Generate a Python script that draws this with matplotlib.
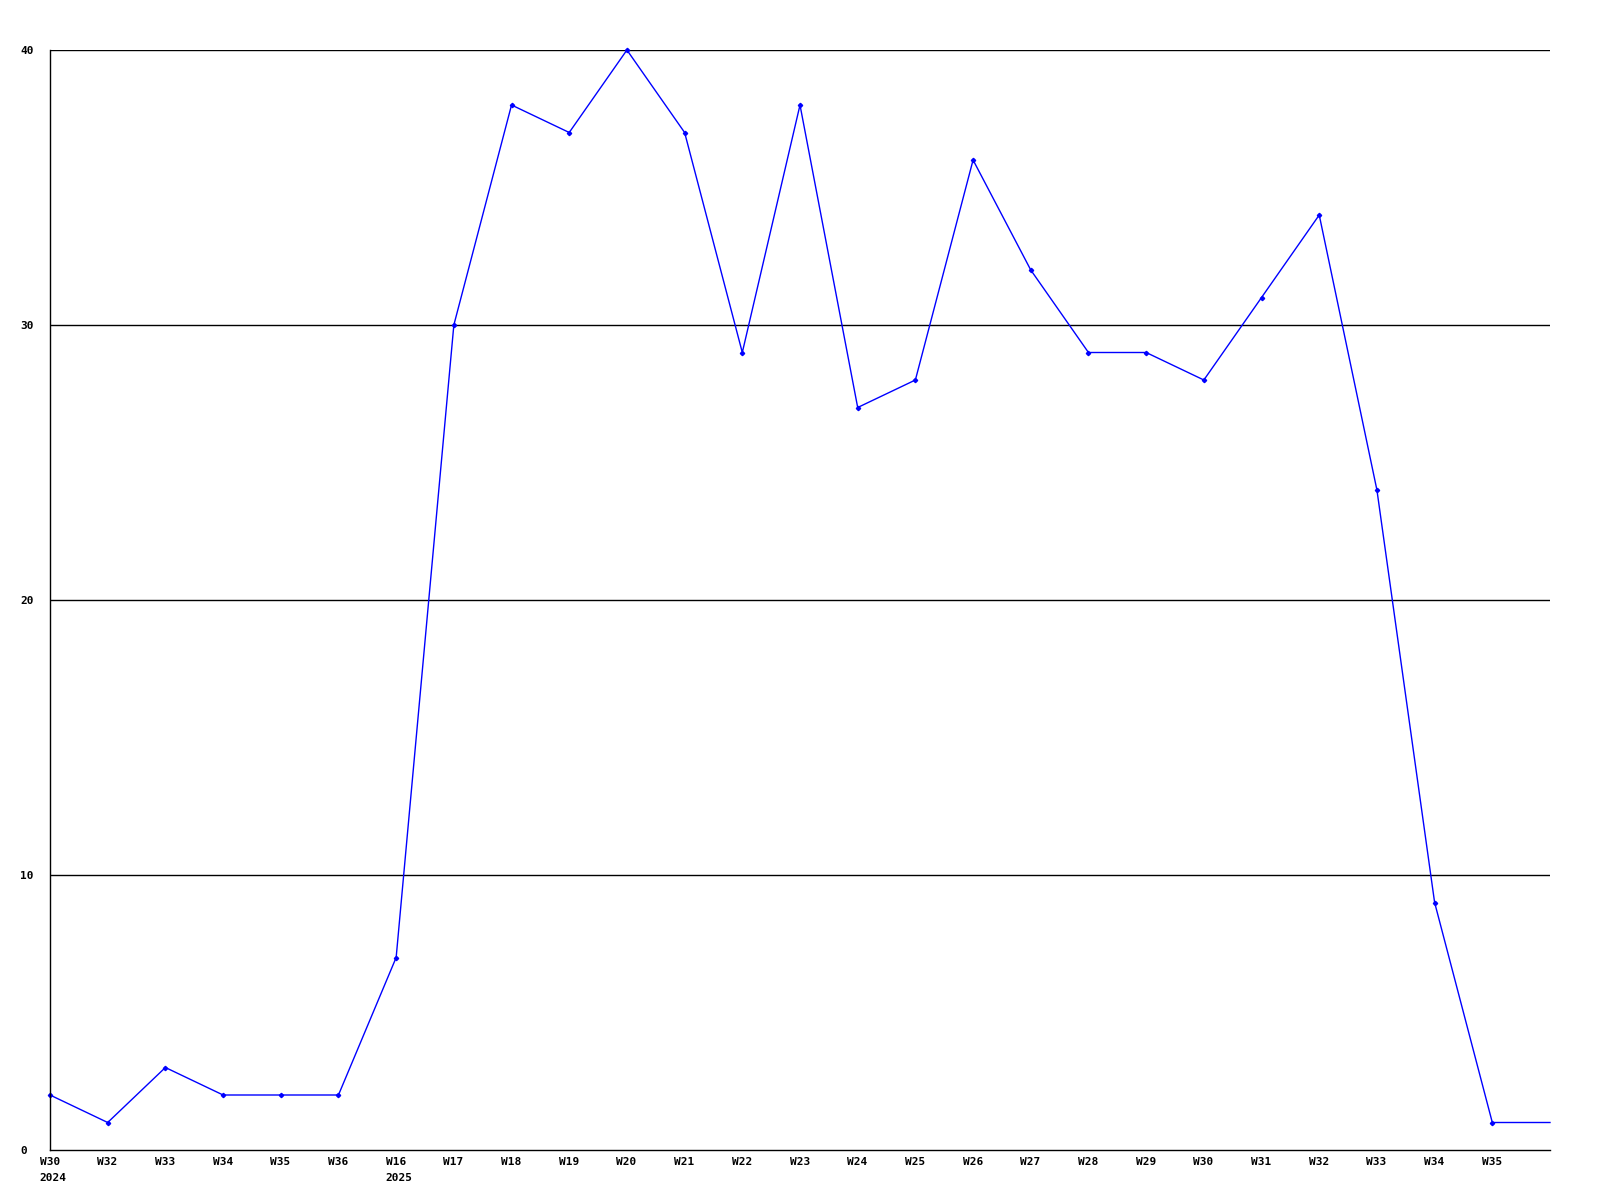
import matplotlib
matplotlib.use("Agg")
import matplotlib.pyplot as plt
import matplotlib.transforms as mtransforms

weeks = ["W30\n2024", "W32", "W33", "W34", "W35", "W36", "W16\n2025", "W17", "W18", "W19",
         "W20", "W21", "W22", "W23", "W24", "W25", "W26", "W27", "W28", "W29",
         "W30", "W31", "W32", "W33", "W34", "W35", ""]
values = [2, 1, 3, 2, 2, 2, 7, 30, 38, 37,
          40, 37, 29, 38, 27, 28, 36, 32, 29, 29,
          28, 31, 34, 24, 9, 1, 1]
yticks = [0, 10, 20, 30, 40]

plt.rcParams['font.family'] = ['DejaVu Sans Mono']
plt.rcParams['font.weight'] = 'bold'

fig = plt.figure(figsize=(16, 12), dpi=100)
ax = fig.add_axes([50/1600, 50/1200, 1500/1600, 1100/1200])

x = list(range(len(values)))
ax.plot(x, values, color='#0000ff', linewidth=1.0, marker='D', markersize=2.2,
        markevery=list(range(len(values) - 1)), clip_on=False)

ax.set_xlim(0, len(values) - 1)
ax.set_ylim(0, 40)

for v in yticks[1:]:
    ax.axhline(v, color='black', linewidth=1.0, zorder=0)

ax.spines['top'].set_visible(False)
ax.spines['right'].set_visible(False)
ax.spines['left'].set_linewidth(1.0)
ax.spines['bottom'].set_linewidth(1.0)

ax.set_yticks(yticks)
ax.set_yticklabels([str(v) for v in yticks], fontsize=8, fontweight='bold', ha='left')
ax.tick_params(axis='y', length=0, pad=21.6)

ax.set_xticks(x)
ax.set_xticklabels(weeks, fontsize=8, fontweight='bold', ha='left', va='top', linespacing=1.75)
ax.tick_params(axis='x', length=0, pad=5)
offset = mtransforms.ScaledTranslation(-10.5/100, 0, fig.dpi_scale_trans)
for lbl in ax.get_xticklabels():
    lbl.set_transform(lbl.get_transform() + offset)

fig.savefig("out.png", dpi=100, facecolor='white')
